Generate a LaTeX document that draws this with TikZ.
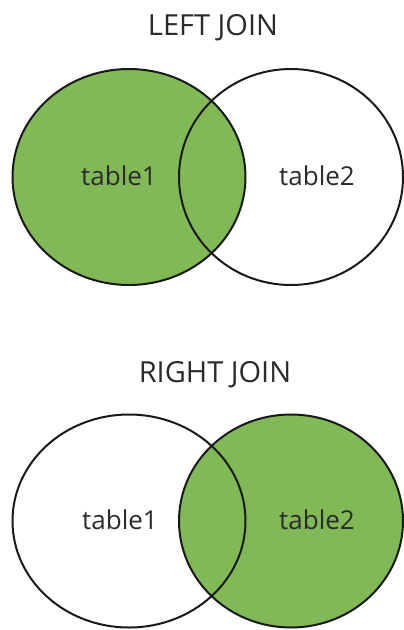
\documentclass[tikz,border=0pt]{standalone}
\usepackage{fontspec}
\setmainfont{Open Sans}
\definecolor{joingreen}{HTML}{80B955}
\definecolor{labelgray}{HTML}{2B2B2B}
\begin{document}
\begin{tikzpicture}[x=1pt,y=-1pt,
    venn/.style={line width=2pt,draw=black!90},
    title/.style={text=labelgray,anchor=base,font=\fontsize{29}{33}\selectfont},
    tbl/.style={text=labelgray,anchor=base,font=\fontsize{26}{30}\selectfont}]
  \useasboundingbox (0,0) rectangle (404,630);
  % left join
  \node[title] (lefttitle) at (213,35) {LEFT JOIN};
  \fill[joingreen] (129,177) ellipse (116.5 and 108);
  \draw[venn] (129,177) ellipse (116.5 and 108);
  \draw[venn] (291,177) ellipse (112 and 108);
  \node[tbl] (lefttblone) at (119,185) {table1};
  \node[tbl] (lefttbltwo) at (317,185) {table2};
  % right join
  \node[title] (righttitle) at (215,382) {RIGHT JOIN};
  \fill[joingreen] (291,521) ellipse (112 and 106.5);
  \draw[venn] (129,521) ellipse (116.5 and 106.5);
  \draw[venn] (291,521) ellipse (112 and 106.5);
  \node[tbl] (righttblone) at (120,529) {table1};
  \node[tbl] (righttbltwo) at (317,529) {table2};
\end{tikzpicture}
\end{document}
